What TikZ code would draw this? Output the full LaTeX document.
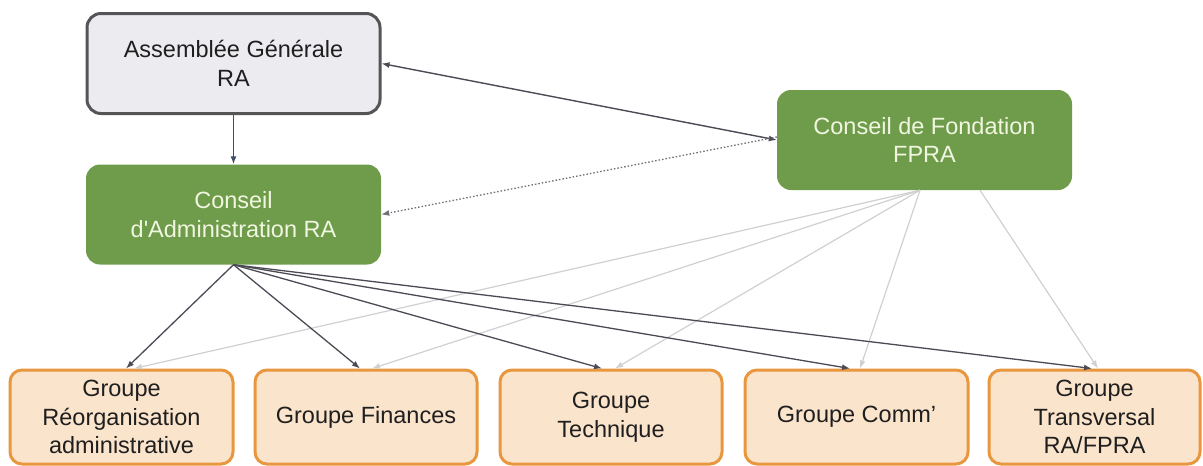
\documentclass[tikz,border=0pt]{standalone}
\usepackage{fontspec}
\setmainfont{Liberation Sans}[Ligatures=TeXOff]
\usetikzlibrary{arrows.meta}
\definecolor{agfill}{HTML}{ECEBF0}
\definecolor{agdraw}{HTML}{555558}
\definecolor{green}{HTML}{6F9C4B}
\definecolor{greentext}{HTML}{F1F6E0}
\definecolor{grpfill}{HTML}{FBE4CC}
\definecolor{grpdraw}{HTML}{E8973E}
\definecolor{darkarrow}{HTML}{4A4B55}
\definecolor{bluearrow}{HTML}{3F5066}
\definecolor{lightarrow}{HTML}{D0D0D3}
\begin{document}
\begin{tikzpicture}[x=1pt,y=-1pt,
  every node/.style={font=\fontsize{23.5}{28.5}\selectfont, align=center, inner sep=0pt},
  topbox/.style={rounded corners=14pt, minimum width=#1, minimum height=100pt},
  agbox/.style={topbox=293pt, fill=agfill, draw=agdraw, line width=3pt, text=black!88},
  greenbox/.style={topbox=295pt, fill=green, text=greentext},
  grpbox/.style={rounded corners=12pt, minimum width=#1, minimum height=94pt,
    fill=grpfill, draw=grpdraw, line width=3pt, text=black!88},
  tip/.style={-{Latex[length=8pt,width=6pt]}},
  darkline/.style={tip, draw=darkarrow, line width=1.3pt},
  lightline/.style={tip, draw=lightarrow, line width=1.2pt}
]
\useasboundingbox (0,0) rectangle (1203,466);

% upper level
\node[agbox] (ag) at (233.5,63.5) {Assemblée Générale\\RA};
\node[greenbox] (ca) at (233.5,214.5) {Conseil\\d'Administration RA};
\node[greenbox] (cf) at (924.5,140) {Conseil de Fondation\\FPRA};

% working groups
\node[grpbox=223pt] (g1) at (121.5,417) {Groupe\\Réorganisation\\administrative};
\node[grpbox=222pt] (g2) at (366,417) {Groupe Finances};
\node[grpbox=222pt] (g3) at (611,417) {Groupe\\Technique};
\node[grpbox=223pt] (g4) at (856.5,417) {Groupe Comm’};
\node[grpbox=211pt] (g5) at (1094.5,417) {Groupe\\Transversal\\RA/FPRA};

% links between the councils
\draw[tip, draw=bluearrow, line width=1.2pt] (ag.south) -- (ca.north);
\draw[{Latex[length=8pt,width=6pt]}-{Latex[length=8pt,width=6pt]}, draw=darkarrow, line width=1.4pt]
  (ag.east) -- (cf.west);
\draw[tip, draw=darkarrow!80, line width=1.3pt, dash pattern=on 1.5pt off 2pt]
  ([yshift=3pt]cf.west) -- (ca.east);

% foundation council to the groups
\draw[lightline] ([xshift=-4.5pt]cf.south) -- ([xshift=12.5pt]g1.north);
\draw[lightline] ([xshift=-4.5pt]cf.south) -- ([xshift=6pt]g2.north);
\draw[lightline] ([xshift=-4.5pt]cf.south) -- ([xshift=4pt]g3.north);
\draw[lightline] ([xshift=-4.5pt]cf.south) -- ([xshift=3.5pt]g4.north);
\draw[lightline] ([xshift=55.5pt]cf.south) -- ([xshift=3.5pt]g5.north);

% administration council to the groups
\draw[darkline] (ca.south) -- ([xshift=4.5pt]g1.north);
\draw[darkline] (ca.south) -- ([xshift=-6pt]g2.north);
\draw[darkline] (ca.south) -- ([xshift=-9pt]g3.north);
\draw[darkline] (ca.south) -- ([xshift=-6.5pt]g4.north);
\draw[darkline] (ca.south) -- ([xshift=-2.5pt]g5.north);
\end{tikzpicture}
\end{document}
